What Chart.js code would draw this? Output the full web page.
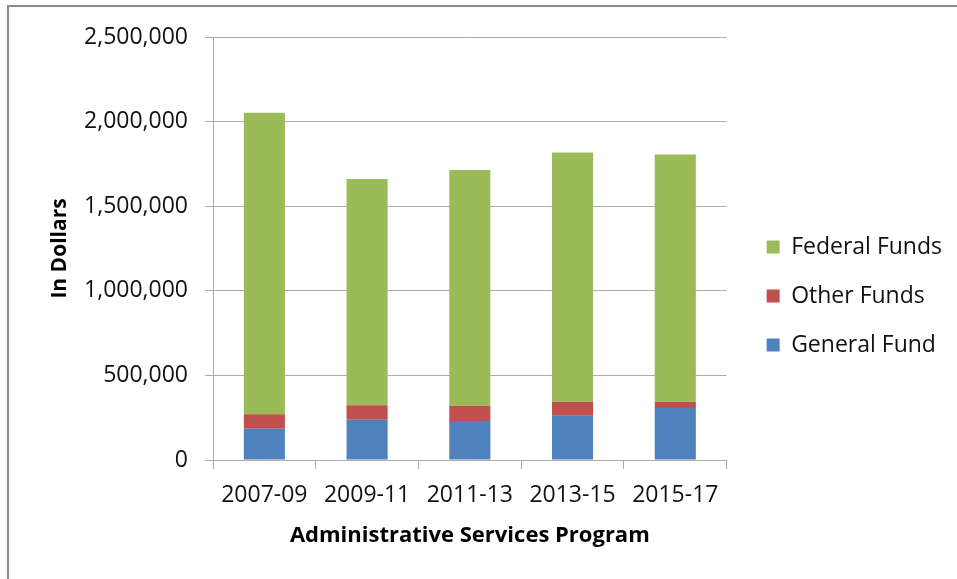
<!DOCTYPE html>
<html>
<head>
<meta charset="utf-8">
<script src="https://cdn.jsdelivr.net/npm/chart.js@4/dist/chart.umd.min.js"></script>
<style>
  html, body { margin: 0; padding: 0; background: #fff; }
  #wrap { position: relative; width: 957px; height: 579px; overflow: hidden; }
  #frame { position: absolute; left: 7px; top: 5px; width: 1000px; height: 700px;
           border: 2px solid #8c8c8c; box-sizing: border-box; }
  canvas { position: absolute; left: 0; top: 0; }
</style>
</head>
<body>
<div id="wrap">
  <div id="frame"></div>
  <canvas id="c" width="957" height="579"></canvas>
</div>
<script>
// Biennium budget periods
const periods = ['2007-09', '2009-11', '2011-13', '2013-15', '2015-17'];

// Funding by source, in dollars
const generalFund  = [185000, 238000, 230000, 262000, 307000];
const otherFunds   = [85000, 85000, 90000, 82000, 37000];
const federalFunds = [1782000, 1338000, 1394000, 1474000, 1461000];

// Y axis tick values
const yTicks = [0, 500000, 1000000, 1500000, 2000000, 2500000];

const FONT = 'Open Sans';
const gridColor = '#ababab';
const textColor = '#111';

// Nudges the right-hand legend into place beside the plot
const legendShift = {
  id: 'legendShift',
  afterLayout(chart) {
    const lg = chart.legend;
    if (!lg) return;
    lg.left += 14; lg.right += 14;
    lg.top -= 12; lg.bottom -= 12;
  }
};

new Chart(document.getElementById('c'), {
  type: 'bar',
  data: {
    labels: periods,
    datasets: [
      { label: 'General Fund', data: generalFund, backgroundColor: '#4F81BD' },
      { label: 'Other Funds', data: otherFunds, backgroundColor: '#C0504D' },
      { label: 'Federal Funds', data: federalFunds, backgroundColor: '#9BBB59' }
    ]
  },
  options: {
    responsive: false,
    animation: false,
    devicePixelRatio: 1,
    layout: { padding: { top: 37, right: 19, bottom: 0, left: 0 } },
    datasets: { bar: { categoryPercentage: 1.0, barPercentage: 0.4 } },
    plugins: {
      tooltip: { enabled: false },
      legend: {
        position: 'right',
        reverse: true,
        labels: {
          font: { family: FONT, size: 23 },
          color: textColor,
          boxWidth: 13,
          boxHeight: 13,
          padding: 26
        }
      }
    },
    scales: {
      x: {
        stacked: true,
        afterFit(scale) { scale.height = 119; },
        grid: { drawOnChartArea: false, drawTicks: true, tickLength: 9, color: gridColor },
        border: { color: gridColor },
        ticks: { font: { family: FONT, size: 23 }, color: textColor, padding: 13 },
        title: {
          display: true,
          text: 'Administrative Services Program',
          font: { family: FONT, size: 22, weight: 'bold' },
          color: '#000',
          padding: { top: 0, bottom: 30 }
        }
      },
      y: {
        stacked: true,
        min: 0,
        max: 2500000,
        afterFit(scale) { scale.width = 213; },
        afterBuildTicks(scale) { scale.ticks = yTicks.map(v => ({ value: v })); },
        grid: { color: gridColor, tickLength: 8 },
        border: { color: gridColor },
        ticks: {
          font: { family: FONT, size: 23 },
          color: textColor,
          padding: 17,
          callback: v => Number(v).toLocaleString('en-US')
        },
        title: {
          display: true,
          text: 'In Dollars',
          font: { family: FONT, size: 21, weight: 'bold' },
          color: '#000',
          padding: { top: 47, bottom: 0 }
        }
      }
    }
  },
  plugins: [legendShift]
});
</script>
</body>
</html>
